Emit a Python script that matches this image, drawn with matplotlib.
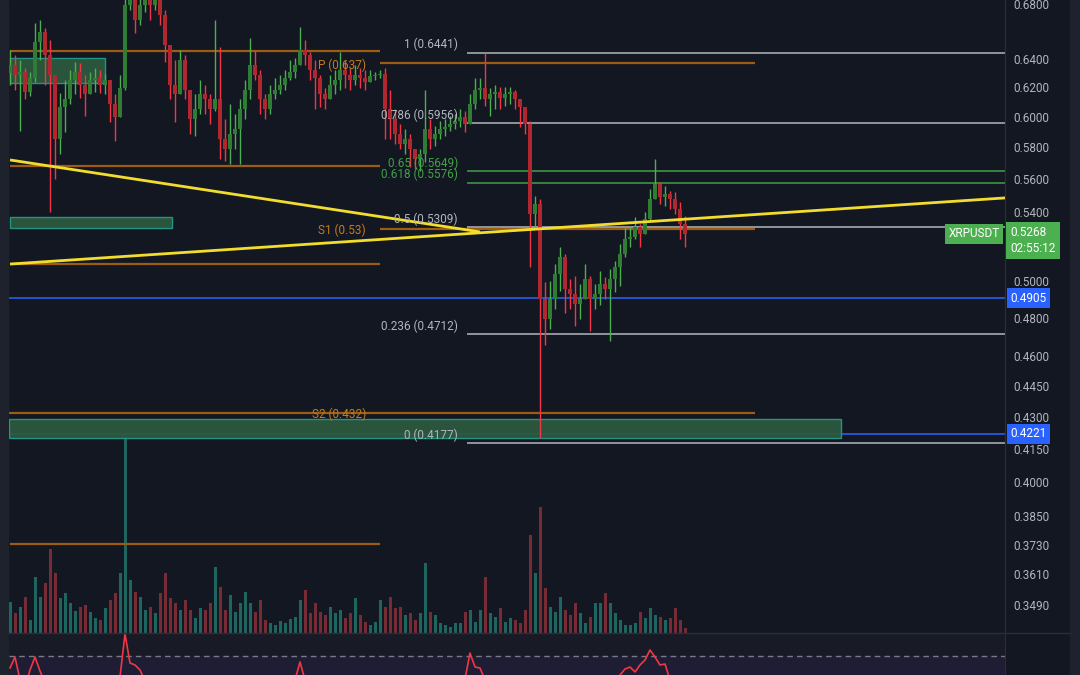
import numpy as np
import matplotlib.pyplot as plt
from matplotlib.patches import Rectangle
from matplotlib.lines import Line2D
from matplotlib.ticker import FixedLocator, NullLocator, FuncFormatter

plt.rcParams['font.family'] = ['Roboto', 'DejaVu Sans']

# XRPUSDT candles (one candle per bar, open = previous close)
first_open = 0.6300
close = [0.6357, 0.6287, 0.6308, 0.6170, 0.6266, 0.6521, 0.6593, 0.6427, 0.6287, 0.5852,
         0.6062, 0.6116, 0.6253, 0.6308, 0.6218, 0.6150, 0.6253, 0.6266, 0.6218, 0.6253,
         0.6083, 0.5995, 0.6197, 0.6793, 0.6906, 0.6681, 0.6793, 0.6868, 0.6793, 0.6830,
         0.6718, 0.6499, 0.6218, 0.6150, 0.6392, 0.6184, 0.5983, 0.6049, 0.6150, 0.6116,
         0.6049, 0.6116, 0.5852, 0.5787, 0.5884, 0.5917, 0.6049, 0.6184, 0.6357, 0.6287,
         0.6116, 0.6049, 0.6150, 0.6184, 0.6218, 0.6266, 0.6308, 0.6357, 0.6463, 0.6427,
         0.6322, 0.6266, 0.6150, 0.6116, 0.6218, 0.6253, 0.6322, 0.6287, 0.6253, 0.6287,
         0.6266, 0.6239, 0.6280, 0.6287, 0.6294, 0.6049, 0.5983, 0.5884, 0.5819, 0.5852,
         0.5787, 0.5724, 0.5755, 0.5917, 0.5852, 0.5884, 0.5917, 0.5929, 0.5950, 0.5969,
         0.5995, 0.5950, 0.6083, 0.6184, 0.6197, 0.6116, 0.6150, 0.6170, 0.6129, 0.6150,
         0.6170, 0.6116, 0.6062, 0.5950, 0.5386, 0.5446, 0.4903, 0.4796, 0.4903, 0.5041,
         0.5136, 0.4958, 0.4931, 0.4876, 0.4903, 0.5013, 0.4903, 0.4931, 0.4986, 0.4958,
         0.5013, 0.5080, 0.5154, 0.5240, 0.5251, 0.5310, 0.5268, 0.5357, 0.5476, 0.5568,
         0.5488, 0.5507, 0.5476, 0.5416, 0.5327, 0.5268]
high = [0.6463, 0.6427, 0.6392, 0.6336, 0.6308, 0.6659, 0.6681, 0.6622, 0.6535, 0.6150,
        0.6163, 0.6253, 0.6322, 0.6378, 0.6371, 0.6287, 0.6308, 0.6336, 0.6322, 0.6294,
        0.6218, 0.6150, 0.6287, 0.6906, 0.6983, 0.6945, 0.6906, 0.6945, 0.6906, 0.6891,
        0.6868, 0.6755, 0.6499, 0.6392, 0.6463, 0.6427, 0.6184, 0.6150, 0.6253, 0.6218,
        0.6150, 0.6681, 0.6485, 0.5983, 0.6083, 0.6016, 0.6116, 0.6253, 0.6550, 0.6463,
        0.6322, 0.6150, 0.6218, 0.6266, 0.6287, 0.6322, 0.6392, 0.6406, 0.6630, 0.6535,
        0.6449, 0.6392, 0.6287, 0.6197, 0.6287, 0.6322, 0.6449, 0.6392, 0.6336, 0.6357,
        0.6336, 0.6322, 0.6322, 0.6308, 0.6322, 0.6336, 0.6184, 0.6049, 0.5950, 0.5917,
        0.5884, 0.5787, 0.5787, 0.6184, 0.5983, 0.5936, 0.5969, 0.5983, 0.6002, 0.6016,
        0.6049, 0.6035, 0.6150, 0.6266, 0.6266, 0.6442, 0.6197, 0.6218, 0.6204, 0.6204,
        0.6204, 0.6184, 0.6116, 0.6016, 0.5969, 0.5494, 0.5476, 0.4996, 0.5002, 0.5097,
        0.5194, 0.5154, 0.5013, 0.5029, 0.4986, 0.5097, 0.5029, 0.4986, 0.5057, 0.5024,
        0.5069, 0.5114, 0.5211, 0.5310, 0.5310, 0.5368, 0.5327, 0.5398, 0.5537, 0.5724,
        0.5580, 0.5555, 0.5525, 0.5519, 0.5458, 0.5374]
low = [0.6218, 0.6184, 0.5903, 0.6116, 0.6143, 0.6239, 0.6392, 0.6218, 0.5398, 0.5599,
       0.5755, 0.5897, 0.6083, 0.6150, 0.6129, 0.6002, 0.6163, 0.6170, 0.6163, 0.6150,
       0.5963, 0.5839, 0.6116, 0.6184, 0.6755, 0.6586, 0.6644, 0.6740, 0.6681, 0.6755,
       0.6644, 0.6378, 0.6116, 0.5963, 0.6150, 0.6116, 0.5884, 0.5871, 0.6016, 0.6016,
       0.5950, 0.6035, 0.5724, 0.5711, 0.5692, 0.5787, 0.5692, 0.5983, 0.6116, 0.6253,
       0.6016, 0.5983, 0.6016, 0.6116, 0.6150, 0.6184, 0.6253, 0.6266, 0.6392, 0.6357,
       0.6253, 0.6049, 0.6062, 0.6049, 0.6150, 0.6150, 0.6184, 0.6197, 0.6184, 0.6218,
       0.6197, 0.6184, 0.6253, 0.6253, 0.6266, 0.5852, 0.5852, 0.5819, 0.5787, 0.5755,
       0.5673, 0.5661, 0.5648, 0.5705, 0.5787, 0.5806, 0.5852, 0.5871, 0.5903, 0.5917,
       0.5929, 0.5897, 0.5950, 0.6049, 0.6116, 0.6069, 0.6002, 0.6049, 0.6049, 0.6069,
       0.6083, 0.6049, 0.5929, 0.5884, 0.5080, 0.5298, 0.4201, 0.4655, 0.4743, 0.4849,
       0.4946, 0.4823, 0.4849, 0.4759, 0.4796, 0.4903, 0.4728, 0.4849, 0.4866, 0.4903,
       0.4676, 0.4941, 0.4974, 0.5136, 0.5194, 0.5240, 0.5194, 0.5298, 0.5339, 0.5476,
       0.5446, 0.5434, 0.5416, 0.5386, 0.5240, 0.5194]
volume = [31, 20, 26, 36, 13, 56, 36, 50, 84, 60,
          35, 40, 30, 22, 26, 28, 21, 15, 13, 25,
          33, 40, 60, 196, 53, 41, 36, 23, 26, 20,
          40, 60, 35, 30, 23, 33, 23, 15, 25, 23,
          30, 66, 46, 23, 38, 21, 30, 41, 30, 21,
          33, 13, 10, 8, 12, 10, 14, 16, 33, 43,
          20, 30, 21, 18, 26, 20, 23, 15, 20, 35,
          18, 11, 8, 11, 33, 26, 36, 25, 26, 18,
          20, 13, 20, 70, 21, 18, 10, 8, 6, 10,
          10, 21, 23, 11, 23, 56, 20, 16, 25, 11,
          15, 13, 10, 23, 98, 60, 126, 45, 26, 21,
          36, 23, 18, 30, 20, 10, 16, 30, 30, 40,
          30, 20, 13, 8, 8, 10, 21, 15, 25, 18,
          16, 13, 15, 25, 13, 5]
# lower pane oscillator
osc = [57, 68, 45, 38, 55, 68, 54, 42, 36, 33,
       31, 35, 38, 34, 30, 33, 36, 39, 35, 32,
       37, 44, 48, 91, 62, 60, 55, 44, 38, 34,
       36, 41, 38, 33, 30, 34, 37, 32, 29, 31,
       35, 42, 40, 34, 38, 32, 30, 36, 41, 37,
       33, 29, 27, 26, 30, 28, 33, 45, 63, 45,
       38, 35, 32, 36, 33, 30, 35, 31, 28, 33,
       30, 27, 25, 28, 34, 40, 37, 35, 33, 31,
       34, 36, 32, 41, 37, 33, 30, 28, 27, 29,
       33, 46, 72, 58, 57, 45, 36, 33, 31, 30,
       29, 31, 35, 44, 47, 42, 48, 46, 40, 37,
       35, 33, 36, 34, 31, 30, 33, 35, 38, 36,
       34, 42, 50, 56, 58, 53, 60, 65, 75, 68,
       60, 61, 45, 38, 35, 33]
osc_band = 69

price_ticks = [0.68, 0.64, 0.62, 0.60, 0.58, 0.56, 0.54, 0.50, 0.48, 0.46,
               0.445, 0.43, 0.415, 0.40, 0.385, 0.373, 0.361, 0.349]

fib_ratios = ['1', '0.786', '0.65', '0.618', '0.5', '0.236', '0']
fib_levels = [0.6441, 0.5956, 0.5649, 0.5576, 0.5309, 0.4712, 0.4177]
pivot_names = ['P', 'S1', 'S2']
pivot_levels = [0.637, 0.53, 0.432]
old_pivots = [0.6452, 0.5680, 0.5097, 0.3735]
blue_levels = [0.4905, 0.4221]
last_price = 0.5268
countdown = '02:55:12'
symbol = 'XRPUSDT'

# trend lines (bar, price)
trend_down = [(0, 0.5719), (94, 0.5280)]
trend_up = [(0, 0.5095), (199, 0.5483)]
# zones: (bar start, bar end, price low, price high)
zones = [(0, 19, 0.6229, 0.6404), (0, 32.4, 0.5303, 0.5368), (-0.2, 166.2, 0.4201, 0.4290)]

BG = '#131722'
GRID = '#2a2e39'
TXT = '#b2b5be'
UP, DN = '#4caf50', '#f23645'
UP_BODY, DN_BODY = '#2f7d34', '#b0272f'
ORANGE, ORANGE_TXT = '#9c5d12', '#c47a1d'
GREEN_FIB = '#43a047'
BLUE = '#2962ff'
YELLOW = '#f2dd2e'

close = np.array(close)
high = np.array(high)
low = np.array(low)
n = len(close)
x = np.arange(n)
opens = np.r_[first_open, close[:-1]]
up = close >= opens
high = np.maximum(high, np.maximum(opens, close))
low = np.minimum(low, np.minimum(opens, close))

W, H = 1080, 675
fig = plt.figure(figsize=(10.8, 6.75), dpi=100, facecolor=BG)
rect_main = [9 / W, 42 / H, 996 / W, 633 / H]
axv = fig.add_axes(rect_main)
ax = fig.add_axes(rect_main, sharex=axv)
axv.set_facecolor(BG)
ax.set_facecolor('none')
xlim = (-0.2, 199)

# volume overlay
vol_colors = np.where(up, '#1d655e', '#772c35')
axv.bar(x, volume, width=0.6, color=vol_colors)
axv.set_ylim(0, max(volume) / 0.31)
axv.set_xlim(*xlim)
axv.axis('off')

# price pane
ax.set_yscale('log')
ax.set_ylim(0.3383, 0.6830)
ax.set_xlim(*xlim)

for lvl in old_pivots:
    ax.hlines(lvl, 0, 74, color=ORANGE, lw=1.6, zorder=1)
for name, lvl in zip(pivot_names, pivot_levels):
    x0 = -0.2 if name == 'S2' else 74
    ax.hlines(lvl, x0, 149, color=ORANGE, lw=1.6, zorder=1)
    ax.annotate(f'{name} ({lvl:g})', xy=(74, lvl), xytext=(-10, -1.5), textcoords='offset points',
                ha='right', va='center', color=ORANGE_TXT, fontsize=8.5, zorder=4)

for r, lvl in zip(fib_ratios, fib_levels):
    col = GREEN_FIB if r in ('0.65', '0.618') else '#b2b5be'
    ax.hlines(lvl, 91.4, xlim[1], color=col, lw=1.1, zorder=1)
    ax.annotate(f'{r} ({lvl:.4f})', xy=(91.4, lvl), xytext=(-6.5, 5.8), textcoords='offset points',
                ha='right', va='center', color=col, fontsize=8.5, zorder=4)

for lvl in blue_levels:
    ax.axhline(lvl, color=BLUE, lw=1.1, zorder=1)

for x0, x1, p0, p1 in zones:
    ax.add_patch(Rectangle((x0, p0), x1 - x0, p1 - p0, facecolor='#2d5a3e', edgecolor='#1f9e8a',
                           lw=1, alpha=0.92, zorder=1.5))

# candles
ax.vlines(x, low, high, colors=np.where(up, UP, DN), lw=1.0, zorder=2)
ax.bar(x, np.abs(close - opens), bottom=np.minimum(opens, close), width=0.65,
       color=np.where(up, UP_BODY, DN_BODY), zorder=2.1)

for (xa, pa), (xb, pb) in (trend_down, trend_up):
    ax.plot([xa, xb], [pa, pb], color=YELLOW, lw=2, zorder=3, solid_capstyle='butt')

# right price scale
ax.yaxis.tick_right()
ax.yaxis.set_major_locator(FixedLocator(price_ticks))
ax.yaxis.set_minor_locator(NullLocator())
ax.yaxis.set_major_formatter(FuncFormatter(lambda v, p: f'{v:.4f}'))
ax.tick_params(axis='y', length=0, pad=6, labelcolor=TXT, labelsize=8.5)
ax.set_xticks([])
for s in ax.spines.values():
    s.set_visible(False)
ax.spines['right'].set_visible(True)
ax.spines['right'].set_color(GRID)

# price labels on the scale
ax.annotate(symbol, xy=(1, last_price), xycoords=('axes fraction', 'data'), xytext=(-4, 0),
            textcoords='offset points', ha='right', va='center', color='white', fontsize=8.5,
            bbox=dict(boxstyle='square,pad=0.28', fc='#4caf50', ec='none'), annotation_clip=False, zorder=5)
ax.annotate(f'{last_price:.4f}\n{countdown}', xy=(1, last_price), xycoords=('axes fraction', 'data'),
            xytext=(4, 5.5), textcoords='offset points', ha='left', va='top', color='white', fontsize=8.5,
            linespacing=1.25, bbox=dict(boxstyle='square,pad=0.35', fc='#4caf50', ec='none'),
            annotation_clip=False, zorder=5)
for lvl in blue_levels:
    ax.annotate(f'{lvl:.4f}', xy=(1, lvl), xycoords=('axes fraction', 'data'), xytext=(4, 0),
                textcoords='offset points', ha='left', va='center', color='white', fontsize=8.5,
                bbox=dict(boxstyle='square,pad=0.3', fc=BLUE, ec='none'), annotation_clip=False, zorder=5)

# lower oscillator pane
ax2 = fig.add_axes([9 / W, 0, 996 / W, 42 / H])
ax2.set_facecolor('#181b26')
ax2.set_xlim(*xlim)
ax2.set_ylim(50, 92)
ax2.axhspan(50, osc_band, color='#1f1d33', lw=0)
ax2.axhline(osc_band, color='#787b86', ls=(0, (4, 3)), lw=1)
ax2.plot(x, osc, color=DN, lw=1.2)
ax2.set_xticks([])
ax2.set_yticks([])
for s in ax2.spines.values():
    s.set_visible(False)
ax2.spines['right'].set_visible(True)
ax2.spines['right'].set_color(GRID)

# side strips and pane separator
fig.add_artist(Rectangle((0, 0), 8 / W, 1, transform=fig.transFigure, color='#1e222d', zorder=0))
fig.add_artist(Rectangle((1070 / W, 0), 10 / W, 1, transform=fig.transFigure, color='#1e222d', zorder=0))
fig.add_artist(Line2D([9 / W, 1070 / W], [42 / H, 42 / H], color=GRID, lw=1))

fig.savefig('out.png', dpi=100, facecolor=BG)
